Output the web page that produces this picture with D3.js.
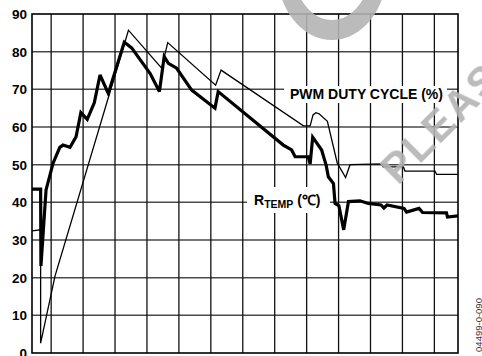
<!DOCTYPE html>
<html>
<head>
<meta charset="utf-8">
<script src="https://cdn.jsdelivr.net/npm/d3@7"></script>
<style>
  body { margin: 0; background: #fff; }
  svg { display: block; }
  text { font-family: Arial, "Liberation Sans", Helvetica, sans-serif; }
</style>
</head>
<body>
<svg id="chart" width="482" height="356"></svg>
<script>
// Y axis tick values (°C / %)
const yTicks = [0, 10, 20, 30, 40, 50, 60, 70, 80, 90];
// Time positions of the vertical grid lines (unlabelled time axis)
const timeGrid = [6, 16, 26, 36, 46, 56, 66, 76, 86, 96, 106, 116, 126];

// R_TEMP (°C) trace
const rtempTime = [0, 2.7, 2.8, 4.4, 6.6, 8.7, 9.7, 11.9, 13.8, 15.3, 17.3, 19.5, 21.3, 23.9,
  28.9, 31.2, 37.0, 39.9, 41.4, 42.7, 45.3, 50.0, 57.3, 58.3, 78.7, 81.3, 82.4, 86.5,
  87.1, 87.9, 90.7, 92.1, 92.8, 94.4, 94.9, 96.1, 97.6, 99.1, 102.7, 105.3, 109.3,
  110.2, 111.2, 116.5, 117.3, 121.2, 122.3, 129.8, 130.1, 133.4];
const rtempValue = [43.5, 43.5, 23.1, 43.3, 50.4, 54.6, 55.2, 54.6, 57.4, 63.8, 62.0, 66.4, 73.8, 68.9,
  82.5, 81.0, 74.2, 69.4, 78.7, 76.9, 75.6, 69.8, 65.0, 69.4, 55.2, 53.9, 52.1, 52.1,
  50.2, 57.3, 53.9, 49.9, 46.8, 45.0, 39.7, 39.1, 32.7, 40.2, 40.4, 39.7, 39.3,
  38.5, 39.3, 38.4, 37.4, 38.4, 37.3, 37.2, 36.1, 36.4];

// PWM duty cycle (%) trace
const pwmTime = [0, 2.7, 2.7, 7.2, 30.2, 40.6, 42.5, 57.5, 59.2, 85.0, 87.1, 88.0, 88.9, 89.9,
  92.5, 95.6, 98.2, 99.6, 109.5, 110.0, 116.3, 116.8, 126.2, 126.7, 133.4];
const pwmValue = [32.4, 32.7, 2.6, 20.4, 85.7, 75.6, 82.4, 71.1, 75.1, 60.3, 60.3, 63.2, 63.8, 63.5,
  61.5, 50.4, 46.6, 50.0, 50.2, 49.4, 49.4, 48.3, 48.3, 47.4, 47.4];

const svg = d3.select("#chart");
const plotL = 32, plotR = 458, plotT = 14, plotB = 353;

const x = d3.scaleLinear().domain([0, 133.4]).range([plotL, plotR]);
const y = d3.scaleLinear().domain([0, 90]).range([plotB, plotT]);

// Horizontal grid
svg.append("g")
  .selectAll("line")
  .data(yTicks.filter(v => v > 0 && v < 90))
  .join("line")
  .attr("x1", plotL).attr("x2", plotR)
  .attr("y1", d => y(d)).attr("y2", d => y(d))
  .attr("stroke", "#4a4a4a").attr("stroke-width", 1.5);

// Vertical grid
svg.append("g")
  .selectAll("line")
  .data(timeGrid)
  .join("line")
  .attr("x1", d => x(d)).attr("x2", d => x(d))
  .attr("y1", plotT).attr("y2", plotB)
  .attr("stroke", "#111").attr("stroke-width", 1.3);

// Frame
svg.append("rect")
  .attr("x", plotL).attr("y", plotT)
  .attr("width", plotR - plotL).attr("height", plotB - plotT)
  .attr("fill", "none").attr("stroke", "#000").attr("stroke-width", 1.6);

// Y tick labels
svg.append("g")
  .selectAll("text")
  .data(yTicks)
  .join("text")
  .attr("x", 27).attr("y", d => y(d))
  .attr("dy", "0.36em")
  .attr("text-anchor", "end")
  .attr("font-size", 13.5).attr("font-weight", "bold")
  .attr("fill", "#000")
  .text(d => d);

// Label backgrounds (interrupt the grid behind the captions)
svg.append("rect").attr("x", 284).attr("y", 86).attr("width", 163).attr("height", 17).attr("fill", "#fff");
svg.append("rect").attr("x", 247).attr("y", 187).attr("width", 83).attr("height", 26).attr("fill", "#fff");

// Series
const line = d3.line().x(d => x(d[0])).y(d => y(d[1]));

svg.append("path")
  .datum(d3.zip(pwmTime, pwmValue))
  .attr("d", line)
  .attr("fill", "none").attr("stroke", "#000")
  .attr("stroke-width", 1.3).attr("stroke-linejoin", "miter");

svg.append("path")
  .datum(d3.zip(rtempTime, rtempValue))
  .attr("d", line)
  .attr("fill", "none").attr("stroke", "#000")
  .attr("stroke-width", 3.2).attr("stroke-linejoin", "miter").attr("stroke-miterlimit", 3);

// Captions
svg.append("text")
  .attr("x", 290).attr("y", 98.5)
  .attr("font-size", 14).attr("font-weight", "bold")
  .text("PWM DUTY CYCLE (%)");

const rt = svg.append("text")
  .attr("x", 254).attr("y", 204.5)
  .attr("font-size", 14).attr("font-weight", "bold");
rt.append("tspan").text("R");
rt.append("tspan").attr("font-size", 10.5).attr("dy", 3.2).text("TEMP");
rt.append("tspan").attr("dy", -3.2).text(" (\u2103)");

// Figure code
svg.append("text")
  .attr("transform", "translate(481.5,325) rotate(-90)")
  .attr("text-anchor", "middle")
  .attr("font-size", 9.5).attr("fill", "#333")
  .text("04499-0-090");

// Watermark
const mark = svg.append("g").attr("fill", "#b4b4b4").attr("opacity", 0.9);
mark.append("path")
  .attr("fill-rule", "evenodd")
  .attr("d", "M277,-30 A55,70 0 1,0 387,-30 A55,70 0 1,0 277,-30 Z " +
             "M294,-30 A38,50 0 1,0 370,-30 A38,50 0 1,0 294,-30 Z");
mark.append("text")
  .attr("transform", "translate(398,186) rotate(-45)")
  .attr("font-size", 42).attr("font-weight", "bold")
  .attr("letter-spacing", 2)
  .text("PLEASE");
</script>
</body>
</html>
